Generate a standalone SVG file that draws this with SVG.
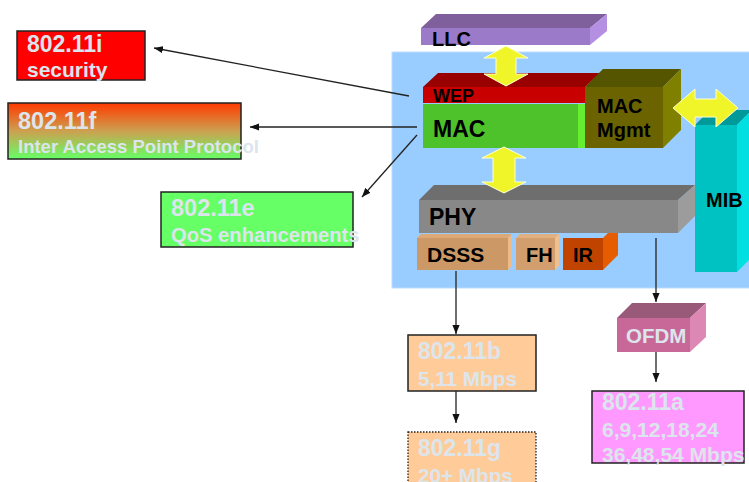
<svg xmlns="http://www.w3.org/2000/svg" width="749" height="482" viewBox="0 0 749 482">
<defs>
<style>
text{font-family:"Liberation Sans",Arial,sans-serif;font-weight:bold}
.k{fill:#000}
.w{fill:#DDE5EC}
.box{stroke:#222;stroke-width:1.5}
.con{stroke:#222;stroke-width:1.3;fill:none;marker-end:url(#ah)}
.ya{fill:#F0F52A;stroke:#FFFFD0;stroke-width:1}
</style>
<marker id="ah" viewBox="0 0 10 8" refX="10" refY="4" markerWidth="9" markerHeight="8" markerUnits="userSpaceOnUse" orient="auto">
<path d="M0,0 L10,4 L0,8 z" fill="#111"/>
</marker>
<linearGradient id="gf" x1="0" y1="0" x2="0" y2="1">
<stop offset="0" stop-color="#FF3A00"/>
<stop offset="0.5" stop-color="#CCA050"/>
<stop offset="1" stop-color="#66FF66"/>
</linearGradient>
</defs>
<rect width="749" height="482" fill="#fff"/>
<g id="stack-bg"><rect x="392" y="52" width="360" height="236" fill="#99CCFF" stroke="#BBDDFF" stroke-width="1"/></g>

<g id="llc">
<polygon points="421,28 436,14 607,14 590,28" fill="#7F5F9C"/>
<polygon points="590,28 607,14 607,31 590,45" fill="#B48FE2"/>
<rect x="421" y="28" width="169" height="17" fill="#9C7ACA"/>
<text x="432" y="46" font-size="20" class="k">LLC</text>
</g>

<g id="wep">
<polygon points="423,87 438,73 600,73 585,87" fill="#990000"/>
<polygon points="585,87 600,73 600,90 585,103" fill="#FF1010"/>
<rect x="423" y="87" width="162" height="16" fill="#C80000"/>
<text x="433" y="102" font-size="18" class="k">WEP</text>
</g>

<g id="mac">
<rect x="423" y="104" width="155" height="44" fill="#4DC22A"/>
<rect x="578" y="104" width="8" height="44" fill="#66EE33"/>
<text x="433" y="137" font-size="23" class="k">MAC</text>
</g>

<g id="mac-mgmt">
<polygon points="585,87 603,69 681,69 663,87" fill="#555500"/>
<polygon points="663,87 681,69 681,130 663,148" fill="#808000"/>
<rect x="585" y="87" width="78" height="61" fill="#6B6300"/>
<text x="597" y="113" font-size="20" class="k">MAC</text>
<text x="597" y="137" font-size="20" class="k">Mgmt</text>
</g>

<g id="mib">
<polygon points="695,125 710,110 752,110 737,125" fill="#009999"/>
<polygon points="737,125 752,110 752,257 737,272" fill="#00E0E0"/>
<rect x="695" y="125" width="42" height="147" fill="#00C2C2"/>
<text x="706" y="207" font-size="20" class="k">MIB</text>
</g>

<g id="dsss">
<polygon points="417,238 421,234 512,234 508,238" fill="#DDAA77"/>
<polygon points="508,238 512,234 512,266 508,270" fill="#EEBB88"/>
<rect x="417" y="238" width="91" height="32" fill="#CC9966"/>
<text x="427" y="262" font-size="21" class="k">DSSS</text>
</g>

<g id="fh">
<polygon points="516,238 520,234 559,234 555,238" fill="#E0B080"/>
<polygon points="555,238 559,234 559,266 555,270" fill="#EEC090"/>
<rect x="516" y="238" width="39" height="32" fill="#D29E6E"/>
<text x="526" y="262" font-size="20" class="k">FH</text>
</g>

<g id="ir">
<polygon points="603,238 618,223 618,255 603,270" fill="#E65C00"/>
<rect x="563" y="238" width="40" height="32" fill="#C04400"/>
<text x="573" y="262" font-size="20" class="k">IR</text>
</g>

<g id="phy">
<polygon points="419,200 434,185 695,185 678,200" fill="#6E6E6E"/>
<polygon points="678,200 695,185 695,216 678,233" fill="#9C9C9C"/>
<rect x="419" y="200" width="259" height="33" fill="#888888"/>
<text x="429" y="225" font-size="23" class="k">PHY</text>
</g>

<g id="ofdm">
<polygon points="617,318 632,303 706,303 690,318" fill="#995A7A"/>
<polygon points="690,318 706,303 706,337 690,352" fill="#DD88B4"/>
<rect x="617" y="318" width="73" height="34" fill="#C86898"/>
<text x="626" y="343" font-size="20.5" class="w">OFDM</text>
</g>

<g id="yellow-arrows">
<polygon class="ya" points="506,46 528,58 516,58 516,74 528,74 506,86 484,74 496,74 496,58 484,58"/>
<polygon class="ya" points="504,147 526,158 515,158 515,182 526,182 504,193 482,182 493,182 493,158 482,158"/>
<polygon class="ya" points="673,108 695,89 695,99 716,99 716,89 738,108 716,127 716,117 695,117 695,127"/>
</g>

<g id="n80211i">
<rect class="box" x="17" y="31" width="128" height="49" fill="#FF0000"/>
<text x="27" y="52" font-size="23" class="w">802.11i</text>
<text x="27" y="77" font-size="21" class="w">security</text>
</g>

<g id="n80211f">
<rect class="box" x="8" y="103" width="233" height="56" fill="url(#gf)"/>
<text x="18" y="129" font-size="23.5" class="w">802.11f</text>
<text x="18" y="153" font-size="18.5" class="w">Inter Access Point Protocol</text>
</g>

<g id="n80211e">
<rect class="box" x="161" y="192" width="192" height="55" fill="#66FF66"/>
<text x="171" y="216" font-size="23.5" class="w">802.11e</text>
<text x="171" y="242" font-size="20.2" class="w">QoS enhancements</text>
</g>

<g id="n80211b">
<rect class="box" x="408" y="335" width="128" height="56" fill="#FFCC99"/>
<text x="418" y="359" font-size="23" class="w">802.11b</text>
<text x="418" y="386" font-size="20.7" class="w">5,11 Mbps</text>
</g>

<g id="n80211g">
<rect x="408" y="432" width="128" height="60" fill="#FFCC99" stroke="#222" stroke-width="1.3" stroke-dasharray="1.5,1.5"/>
<text x="418" y="456" font-size="23" class="w">802.11g</text>
<text x="418" y="483" font-size="20.7" class="w">20+ Mbps</text>
</g>

<g id="n80211a">
<rect class="box" x="592" y="391" width="152" height="72" fill="#FF99FF"/>
<text x="602" y="410" font-size="23" class="w">802.11a</text>
<text x="602" y="437" font-size="21" class="w">6,9,12,18,24</text>
<text x="602" y="462" font-size="21" class="w">36,48,54 Mbps</text>
</g>

<g id="connectors">
<line class="con" x1="409" y1="96" x2="154" y2="48"/>
<line class="con" x1="417" y1="127" x2="250" y2="127"/>
<line class="con" x1="417" y1="135" x2="362" y2="197"/>
<line class="con" x1="456" y1="271" x2="456" y2="334"/>
<line class="con" x1="456" y1="391" x2="456" y2="423"/>
<line class="con" x1="656" y1="238" x2="656" y2="302"/>
<line class="con" x1="656" y1="352" x2="656" y2="382"/>
</g>
</svg>
